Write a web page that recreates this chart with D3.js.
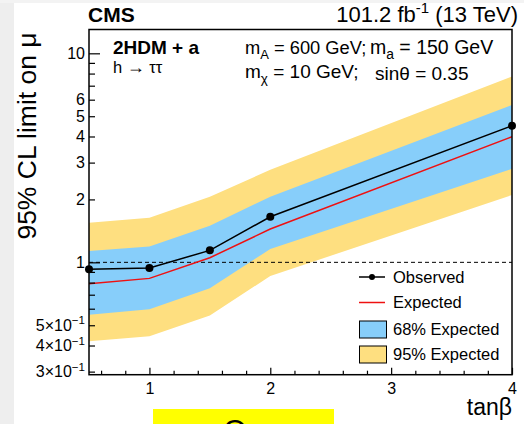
<!DOCTYPE html>
<html>
<head>
<meta charset="utf-8">
<script src="https://cdn.jsdelivr.net/npm/d3@7"></script>
<style>
  html, body { margin: 0; padding: 0; background: #ffffff; }
  svg { display: block; font-family: "Liberation Sans", Arial, Helvetica, sans-serif; }
</style>
</head>
<body>
<svg id="chart" width="524" height="424"></svg>
<script>
// Limit on signal strength vs tan(beta), 2HDM + a, h -> tautau
const tanBeta    = [0.5, 1, 1.5, 2, 4];
const observed   = [0.926, 0.939, 1.141, 1.652, 4.50];
const expected   = [0.790, 0.838, 1.052, 1.443, 3.99];
const exp68Up    = [1.132, 1.192, 1.497, 2.06, 5.66];
const exp68Down  = [0.562, 0.596, 0.751, 1.158, 2.80];
const exp95Up    = [1.547, 1.634, 2.06, 2.77, 7.74];
const exp95Down  = [0.419, 0.443, 0.557, 0.860, 2.10];

const xTickValues = [1, 2, 3, 4];
const xTickLabels = ["1", "2", "3", "4"];
const xMinorTicks = d3.range(0.6, 4.0001, 0.2).map(v => +v.toFixed(1));
const yTickValues = [0.3, 0.4, 0.5, 1, 2, 3, 4, 5, 6, 10];
const yTickLabels = ["3×10^{−1}", "4×10^{−1}", "5×10^{−1}", "1", "2", "3", "4", "5", "6", "10"];
const yMinorTicks = [0.3, 0.4, 0.5, 0.6, 0.7, 0.8, 0.9, 2, 3, 4, 5, 6, 7, 8, 9];
const yMajorTicks = [1, 10];
const legendLabels = ["Observed", "Expected", "68% Expected", "95% Expected"];

const C_YELLOW = "#fedf80";
const C_BLUE = "#87cefa";
const C_RED = "#ee1111";

const svg = d3.select("#chart");
const W = 524, H = 424;
const pLeft = 89, pRight = 512, pTop = 29.5, pBottom = 374.7;

// page backdrop
svg.append("rect").attr("x", 0).attr("y", 0).attr("width", W).attr("height", H).attr("fill", "#ffffff");
svg.append("rect").attr("x", 0).attr("y", 0).attr("width", 14).attr("height", H).attr("fill", "#eeeeee");
svg.append("rect").attr("x", 0).attr("y", 0).attr("width", W).attr("height", 3).attr("fill", "#f3f3f3");

const x = d3.scaleLinear().domain([0.5, 4]).range([pLeft, pRight]);
const y = d3.scaleLog().domain([0.29, 13]).range([pBottom, pTop]);

const pts = tanBeta.map((t, i) => ({
  t, obs: observed[i], exp: expected[i],
  u68: exp68Up[i], d68: exp68Down[i], u95: exp95Up[i], d95: exp95Down[i]
}));

const plot = svg.append("g");
plot.append("defs").append("clipPath").attr("id", "frame")
  .append("rect").attr("x", pLeft).attr("y", pTop).attr("width", pRight - pLeft).attr("height", pBottom - pTop);

const g = plot.append("g").attr("clip-path", "url(#frame)");

g.append("path").datum(pts).attr("fill", C_YELLOW)
  .attr("d", d3.area().x(d => x(d.t)).y0(d => y(d.d95)).y1(d => y(d.u95)));
g.append("path").datum(pts).attr("fill", C_BLUE)
  .attr("d", d3.area().x(d => x(d.t)).y0(d => y(d.d68)).y1(d => y(d.u68)));

// reference line at mu = 1
g.append("line").attr("x1", pLeft).attr("x2", pRight).attr("y1", y(1)).attr("y2", y(1))
  .attr("stroke", "#000").attr("stroke-width", 1).attr("stroke-dasharray", "4,3");

g.append("path").datum(pts).attr("fill", "none").attr("stroke", C_RED).attr("stroke-width", 1.5)
  .attr("d", d3.line().x(d => x(d.t)).y(d => y(d.exp)));
g.append("path").datum(pts).attr("fill", "none").attr("stroke", "#000").attr("stroke-width", 1.5)
  .attr("d", d3.line().x(d => x(d.t)).y(d => y(d.obs)));

plot.selectAll("circle.obs").data(pts).join("circle").attr("class", "obs")
  .attr("cx", d => x(d.t)).attr("cy", d => y(d.obs)).attr("r", 4).attr("fill", "#000");

// frame
plot.append("rect").attr("x", pLeft).attr("y", pTop).attr("width", pRight - pLeft).attr("height", pBottom - pTop)
  .attr("fill", "none").attr("stroke", "#000").attr("stroke-width", 1.5);

// x axis ticks (inward)
const xMajor = d3.axisBottom(x).tickValues(xTickValues).tickSize(-7).tickPadding(8)
  .tickFormat((d, i) => xTickLabels[i]);
const xMin = d3.axisBottom(x).tickValues(xMinorTicks.filter(v => !xTickValues.includes(v))).tickSize(-4).tickFormat("");
const gxMin = svg.append("g").attr("transform", `translate(0,${pBottom})`).call(xMin);
const gx = svg.append("g").attr("transform", `translate(0,${pBottom})`).call(xMajor);
[gx, gxMin].forEach(a => {
  a.select(".domain").remove();
  a.selectAll("line").attr("stroke", "#000").attr("stroke-width", 1.2);
});
gx.selectAll("text").attr("font-size", 16).attr("fill", "#000").attr("font-family", null);

// y axis ticks (inward)
const yMin = d3.axisLeft(y).tickValues(yMinorTicks).tickSize(-6).tickFormat("");
const yMaj = d3.axisLeft(y).tickValues(yMajorTicks).tickSize(-11).tickFormat("");
const gyMin = svg.append("g").attr("transform", `translate(${pLeft},0)`).call(yMin);
const gyMaj = svg.append("g").attr("transform", `translate(${pLeft},0)`).call(yMaj);
[gyMin, gyMaj].forEach(a => {
  a.select(".domain").remove();
  a.selectAll("line").attr("stroke", "#000").attr("stroke-width", 1.2);
});

// y tick labels with superscript exponents
function richText(sel, str, size) {
  const m = str.match(/^(.*?)\^\{(.*)\}$/);
  if (!m) { sel.text(str); return; }
  sel.append("tspan").text(m[1]);
  sel.append("tspan").attr("dy", -size * 0.42).attr("font-size", size * 0.72).text(m[2]);
}
yTickValues.forEach((v, i) => {
  const t = svg.append("text").attr("x", pLeft - 4).attr("y", y(v) + 5.8)
    .attr("text-anchor", "end").attr("font-size", 16).attr("fill", "#000");
  richText(t, yTickLabels[i], 16);
});

// axis titles
svg.append("text").attr("transform", `translate(${pRight},415)`).attr("text-anchor", "end")
  .attr("font-size", 23).text("tanβ");
svg.append("text").attr("transform", `translate(36,136) rotate(-90)`).attr("text-anchor", "middle")
  .attr("font-size", 26.5).text("95% CL limit on μ");

// header
svg.append("text").attr("x", 88).attr("y", 22).attr("font-size", 21).attr("font-weight", "bold").text("CMS");
const lumi = svg.append("text").attr("x", 518).attr("y", 22).attr("text-anchor", "end").attr("font-size", 22);
lumi.append("tspan").text("101.2 fb");
lumi.append("tspan").attr("dy", -9).attr("font-size", 15).text("-1");
lumi.append("tspan").attr("dy", 9).text(" (13 TeV)");

// model annotations
svg.append("text").attr("x", 113).attr("y", 53.5).attr("font-size", 19).attr("font-weight", "bold").text("2HDM + a");
const hl = svg.append("text").attr("x", 113).attr("y", 73).attr("font-size", 16.5);
hl.append("tspan").text("h ");
hl.append("tspan").attr("font-size", 18).text("→");
hl.append("tspan").text(" ττ");

function paramText(xp, yp, size, base, sub, rest) {
  const t = svg.append("text").attr("x", xp).attr("y", yp).attr("font-size", size);
  t.append("tspan").text(base);
  if (sub) {
    t.append("tspan").attr("dy", 5).attr("font-size", size * 0.71).text(sub);
    t.append("tspan").attr("dy", -5).text(rest);
  } else {
    t.append("tspan").text(rest);
  }
}
paramText(245, 54, 18.3, "m", "A", " = 600 GeV;");
paramText(370, 54, 19.5, "m", "a", " = 150 GeV");
paramText(245, 78, 19, "m", "χ", " = 10 GeV;");
paramText(375, 80, 19, "sinθ", null, " = 0.35");

// legend
const lg = svg.append("g").attr("font-size", 16.5);
const legY = [277, 302.5, 329.5, 354.5];
lg.append("line").attr("x1", 359).attr("x2", 385).attr("y1", legY[0]).attr("y2", legY[0])
  .attr("stroke", "#000").attr("stroke-width", 1.5);
lg.append("circle").attr("cx", 372).attr("cy", legY[0]).attr("r", 3).attr("fill", "#000");
lg.append("line").attr("x1", 359).attr("x2", 385).attr("y1", legY[1]).attr("y2", legY[1])
  .attr("stroke", C_RED).attr("stroke-width", 1.5);
lg.append("rect").attr("x", 359.5).attr("y", legY[2] - 8.5).attr("width", 27).attr("height", 17)
  .attr("fill", C_BLUE).attr("stroke", "#000").attr("stroke-width", 1);
lg.append("rect").attr("x", 359.5).attr("y", legY[3] - 8.5).attr("width", 27).attr("height", 17)
  .attr("fill", C_YELLOW).attr("stroke", "#000").attr("stroke-width", 1);
legendLabels.forEach((s, i) => {
  lg.append("text").attr("x", 393).attr("y", legY[i]).attr("dy", "0.36em").text(s);
});

// highlighted caption strip below the figure
svg.append("rect").attr("x", 153).attr("y", 409).attr("width", 181).attr("height", 15).attr("fill", "#ffff00");
svg.append("text").attr("x", 235).attr("y", 440).attr("text-anchor", "middle").attr("font-size", 30).text("O");
</script>
</body>
</html>
